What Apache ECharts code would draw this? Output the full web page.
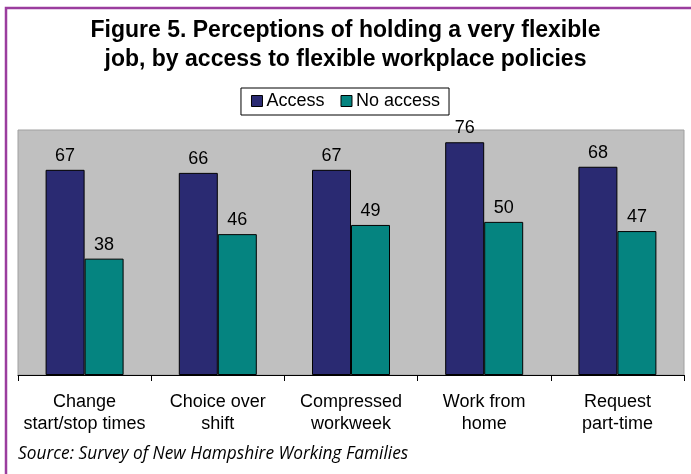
<!DOCTYPE html>
<html>
<head>
<meta charset="utf-8">
<script src="https://cdn.jsdelivr.net/npm/echarts@6/dist/echarts.min.js"></script>
<style>
  html, body { margin: 0; padding: 0; background: #ffffff; }
  #chart { width: 691px; height: 474px; }
</style>
</head>
<body>
<div id="chart"></div>
<script>
// Policy categories (two-line axis labels)
const categories = [
  'Change\nstart/stop times',
  'Choice over\nshift',
  'Compressed\nworkweek',
  'Work from\nhome',
  'Request\npart-time'
];
// Percent who perceive their job as very flexible
const accessValues = [67, 66, 67, 76, 68];
const noAccessValues = [38, 46, 49, 50, 47];
const seriesNames = ['Access', 'No access'];

const FONT = '"Liberation Sans", Arial, Helvetica, sans-serif';

const chart = echarts.init(document.getElementById('chart'), null, { renderer: 'canvas' });

const barLabel = {
  show: true,
  position: 'top',
  distance: 5,
  fontSize: 18,
  color: '#000',
  fontFamily: FONT
};

chart.setOption({
  backgroundColor: '#ffffff',
  animation: false,
  title: {
    text: 'Figure 5. Perceptions of holding a very flexible\njob, by access to flexible workplace policies',
    left: 'center',
    top: 11,
    textStyle: {
      fontFamily: FONT,
      fontWeight: 'bold',
      fontSize: 23,
      lineHeight: 29,
      color: '#000'
    }
  },
  legend: {
    data: seriesNames,
    top: 88,
    left: 'center',
    itemWidth: 11,
    itemHeight: 11,
    itemGap: 16,
    padding: [4, 9, 5, 10],
    borderColor: '#000',
    borderWidth: 1,
    icon: 'rect',
    itemStyle: { borderColor: '#000', borderWidth: 1 },
    textStyle: { fontFamily: FONT, fontSize: 18, color: '#000', padding: [0, 0, 0, -1] }
  },
  grid: {
    left: 18,
    right: 7,
    top: 130,
    bottom: 99,
    show: true,
    backgroundColor: '#c0c0c0',
    borderColor: '#a0a0a0',
    borderWidth: 1
  },
  xAxis: {
    type: 'category',
    data: categories,
    axisLine: { lineStyle: { color: '#000', width: 1 } },
    axisTick: { show: true, length: 6, lineStyle: { color: '#000' } },
    axisLabel: {
      fontFamily: FONT,
      fontSize: 18,
      lineHeight: 22,
      color: '#000',
      margin: 16,
      interval: 0
    }
  },
  yAxis: {
    type: 'value',
    min: 0,
    max: 80,
    show: false,
    splitLine: { show: false }
  },
  series: [
    {
      name: seriesNames[0],
      type: 'bar',
      data: accessValues,
      barWidth: 39,
      barGap: '0%',
      itemStyle: { color: '#2a2a72', borderColor: '#000', borderWidth: 1 },
      label: barLabel
    },
    {
      name: seriesNames[1],
      type: 'bar',
      data: noAccessValues,
      barWidth: 39,
      barGap: '0%',
      itemStyle: { color: '#058480', borderColor: '#000', borderWidth: 1 },
      label: barLabel
    }
  ],
  graphic: [
    {
      type: 'rect',
      shape: { x: 6, y: 8, width: 720, height: 520 },
      style: { fill: null, stroke: '#9b3d9e', lineWidth: 2.5 },
      silent: true
    },
    {
      type: 'text',
      left: 18,
      top: 446,
      style: {
        text: 'Source: Survey of New Hampshire Working Families',
        fontFamily: '"Open Sans", sans-serif',
        fontStyle: 'italic',
        fontSize: 17.3,
        fill: '#000'
      }
    }
  ]
});
</script>
</body>
</html>
